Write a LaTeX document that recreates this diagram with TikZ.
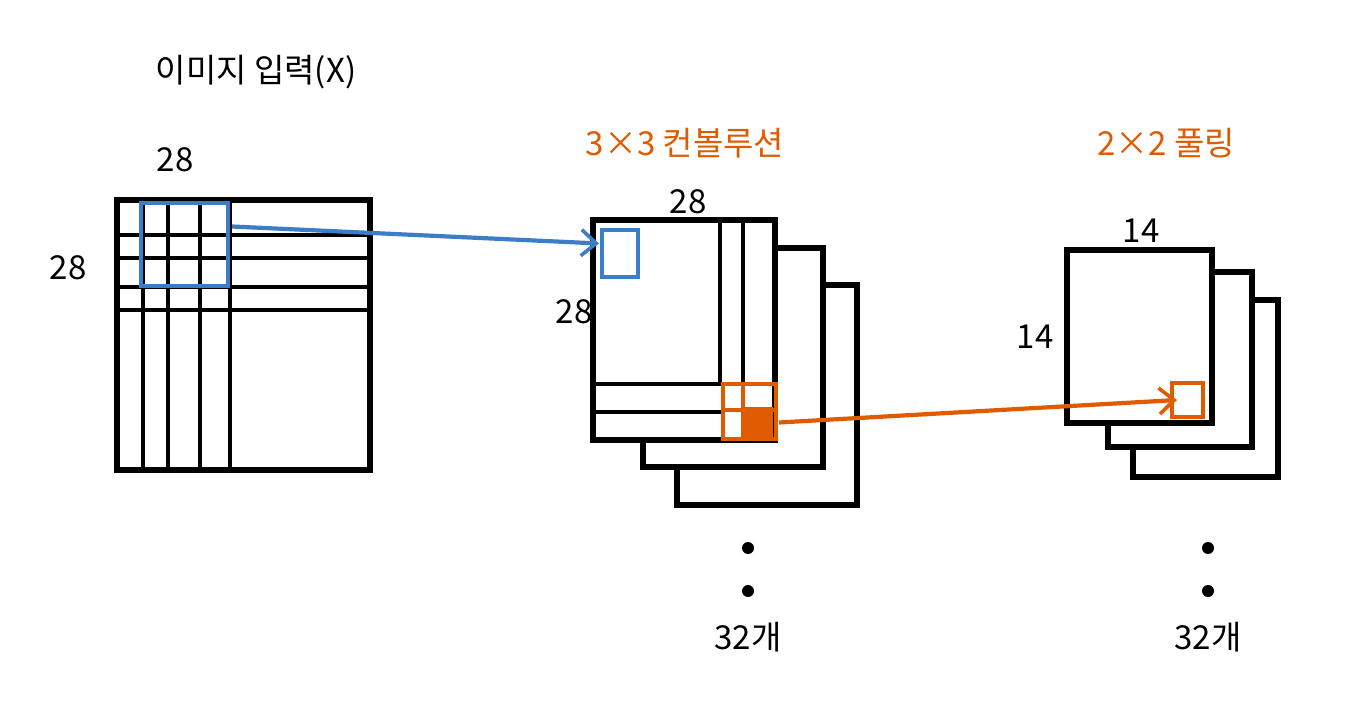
\documentclass[tikz,border=0pt]{standalone}
\usepackage{fontspec}
\setmainfont{Noto Sans CJK KR}
\usetikzlibrary{arrows.meta}
\definecolor{cblue}{RGB}{60,125,200}
\definecolor{corange}{RGB}{224,90,0}
\tikzset{
  fmap/.style={draw=black, line width=5.4pt, fill=white, rectangle, inner sep=0pt, outer sep=0pt},
  gridln/.style={draw=black, line width=4.6pt},
  lbl/.style={font=\fontsize{33}{36}\selectfont, inner sep=0pt},
  olbl/.style={lbl, text=corange},
  bluebox/.style={draw=cblue, line width=4.8pt, rectangle, inner sep=0pt, outer sep=0pt},
  orangebox/.style={draw=corange, line width=4.8pt, rectangle, inner sep=0pt, outer sep=0pt},
  barrow/.style={draw=cblue, line width=4.2pt, -{Straight Barb[length=15pt,width=26pt,line width=3.6pt]}},
  oarrow/.style={draw=corange, line width=4.2pt, -{Straight Barb[length=15pt,width=26pt,line width=3.6pt]}},
  dotn/.style={circle, fill=black, inner sep=0pt, minimum size=12pt}
}
\begin{document}
\begin{tikzpicture}[x=1pt,y=-1pt]
\useasboundingbox (0,0) rectangle (1354,708);
% ---------- input image ----------
\node[fmap, minimum width=253pt, minimum height=270pt] (in) at (243.5,335) {};
\foreach \yy in {235,258,287,310} \draw[gridln] (117,\yy) -- (370,\yy);
\foreach \xx in {143,168,200,230} \draw[gridln] (\xx,200) -- (\xx,470);
\node[bluebox, minimum width=87pt, minimum height=83pt] (win) at (184.5,244.5) {};
\node[lbl] (title1) at (256,72) {이미지 입력(X)};
\node[lbl] (w1) at (175,160) {28};
\node[lbl] (h1) at (68,268) {28};
% ---------- convolution stack ----------
\node[fmap, minimum width=180pt, minimum height=220pt] (c3) at (767,395) {};
\node[fmap, minimum width=180pt, minimum height=219pt] (c2) at (733,357.5) {};
\node[fmap, minimum width=182pt, minimum height=220pt] (c1) at (684,330) {};
\foreach \xx in {720,743} \draw[gridln] (\xx,220) -- (\xx,384);
\foreach \yy in {384,412} \draw[gridln] (593,\yy) -- (723,\yy);
\fill[corange] (745,407) rectangle (773,437);
\draw[corange, line width=3.8pt] (743,384) -- (743,439);
\draw[corange, line width=3.8pt] (723,410) -- (776,410);
\node[orangebox, minimum width=53pt, minimum height=55pt] (pwin) at (749.5,411.5) {};
\node[bluebox, minimum width=36pt, minimum height=47pt] (cout) at (620,253.5) {};
\node[olbl] (title2) at (685,143) {3×3 컨볼루션};
\node[lbl] (w2) at (688,202) {28};
\node[lbl] (h2) at (574,312) {28};
\node[dotn] (d1) at (748,548) {};
\node[dotn] (d2) at (748,591) {};
\node[lbl] (n1) at (748,637) {32개};
% ---------- pooling stack ----------
\node[fmap, minimum width=145pt, minimum height=177pt] (p3) at (1205.5,388.5) {};
\node[fmap, minimum width=144pt, minimum height=175pt] (p2) at (1180,359.5) {};
\node[fmap, minimum width=145pt, minimum height=173pt] (p1) at (1139.5,336.5) {};
\node[orangebox, minimum width=31pt, minimum height=34pt] (pout) at (1187.5,400) {};
\node[olbl] (title3) at (1166,143) {2×2 풀링};
\node[lbl] (w3) at (1141,231) {14};
\node[lbl] (h3) at (1035,337) {14};
\node[dotn] (d3) at (1208,548) {};
\node[dotn] (d4) at (1208,591) {};
\node[lbl] (n2) at (1208,637) {32개};
% ---------- arrows ----------
\draw[barrow] ([xshift=4pt,yshift=18pt]win.east) -- ([xshift=-3pt,yshift=10pt]cout.west);
\draw[oarrow] ([xshift=3pt,yshift=-11pt]pwin.east) -- ([xshift=5pt]pout.west);
\end{tikzpicture}
\end{document}
